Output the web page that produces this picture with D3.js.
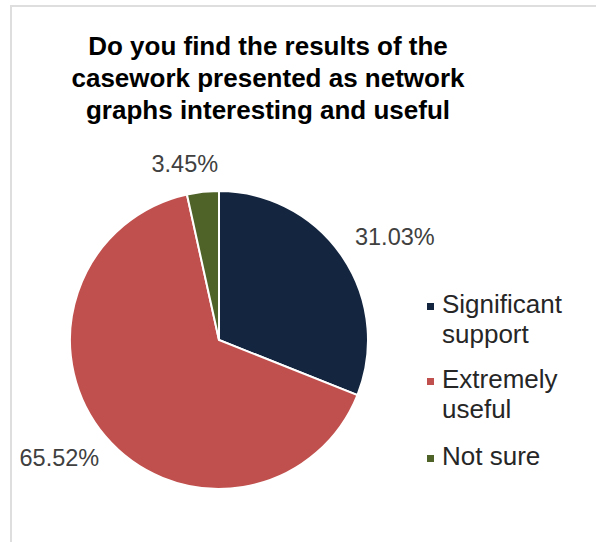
<!DOCTYPE html>
<html>
<head>
<meta charset="utf-8">
<script src="https://cdn.jsdelivr.net/npm/d3@7"></script>
<style>
  html, body { margin: 0; padding: 0; background: #fff; }
  svg { display: block; font-family: "Liberation Sans", Arial, sans-serif; }
</style>
</head>
<body>
<div id="chart"></div>
<script>
// Survey answers (percent of respondents)
const categories = ["Significant support", "Extremely useful", "Not sure"];
const shares = [31.03, 65.52, 3.45];
const labels = ["31.03%", "65.52%", "3.45%"];
const legendLines = [["Significant", "support"], ["Extremely", "useful"], ["Not sure"]];
const colors = ["#13253f", "#c0504d", "#4f6228"];
const titleLines = ["Do you find the results of the", "casework presented as network", "graphs interesting and useful"];

const width = 596, height = 542;

const svg = d3.select("#chart")
    .append("svg")
    .attr("width", width)
    .attr("height", height);

// Chart area frame (only top and left edges visible in the crop)
svg.append("path")
    .attr("d", `M11,${height} L11,6 L${width},6`)
    .attr("fill", "none")
    .attr("stroke", "#dedede")
    .attr("stroke-width", 2);

// Title
svg.append("text")
    .attr("text-anchor", "middle")
    .attr("font-weight", "bold")
    .attr("font-size", 26)
    .attr("fill", "#000")
    .selectAll("tspan")
    .data(titleLines)
    .enter()
    .append("tspan")
    .attr("x", 268)
    .attr("y", (d, i) => 55 + i * 32)
    .text(d => d);

// Pie
const cx = 219, cy = 340, radius = 149;

const pie = d3.pie().sort(null).value(d => d);
const arcs = pie(shares);
const arc = d3.arc().innerRadius(0).outerRadius(radius);

const g = svg.append("g").attr("transform", `translate(${cx},${cy})`);

g.selectAll("path")
    .data(arcs)
    .enter()
    .append("path")
    .attr("d", arc)
    .attr("fill", (d, i) => colors[i])
    .attr("stroke", "#fff")
    .attr("stroke-width", 2);

// Outside-end data labels: box touches a point just outside the rim
const labelFont = 23.5;
const labelOffset = [24, 21, 14];
const labelNudge = [[0, 0], [0, 0], [-13, -3]];
g.selectAll("text.lbl")
    .data(arcs)
    .enter()
    .append("text")
    .attr("class", "lbl")
    .attr("font-size", labelFont)
    .attr("fill", "#404040")
    .attr("text-anchor", "middle")
    .each(function (d, i) {
        const a = (d.startAngle + d.endAngle) / 2;
        const r = radius + labelOffset[i];
        const px = Math.sin(a) * r, py = -Math.cos(a) * r;
        const w = labels[i].length * labelFont * 0.56, h = labelFont;
        const bx = px + Math.sin(a) * w / 2 + labelNudge[i][0];
        const by = py - Math.cos(a) * h / 2 + labelNudge[i][1];
        d3.select(this)
            .attr("x", bx)
            .attr("y", by + labelFont * 0.35)
            .text(labels[i]);
    });

// Legend
const legendX = 427, legendY = [313, 388, 465];
const legendFont = 26;
const legend = svg.append("g");

legend.selectAll("rect")
    .data(categories)
    .enter()
    .append("rect")
    .attr("x", legendX)
    .attr("y", (d, i) => legendY[i] - 10)
    .attr("width", 7)
    .attr("height", 7)
    .attr("fill", (d, i) => colors[i]);

legend.selectAll("text")
    .data(categories)
    .enter()
    .append("text")
    .attr("font-size", legendFont)
    .attr("fill", "#262626")
    .each(function (d, i) {
        d3.select(this).selectAll("tspan")
            .data(legendLines[i])
            .enter()
            .append("tspan")
            .attr("x", legendX + 15)
            .attr("y", (t, j) => legendY[i] + j * 30)
            .text(t => t);
    });
</script>
</body>
</html>
